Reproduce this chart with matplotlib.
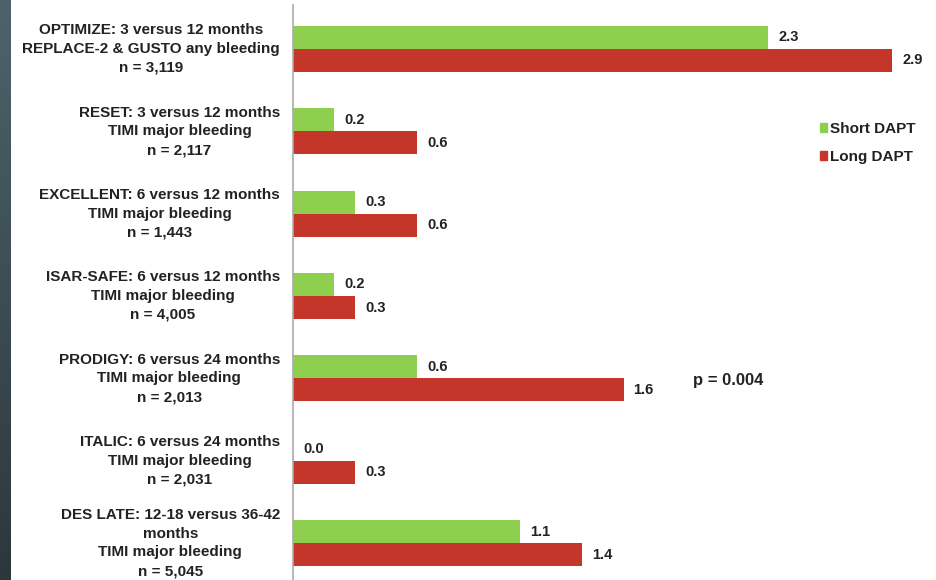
import numpy as np
import matplotlib
matplotlib.use("Agg")
import matplotlib.pyplot as plt
from matplotlib.patches import Patch
from matplotlib.colors import LinearSegmentedColormap

plt.rcParams['font.family'] = ['Liberation Sans', 'DejaVu Sans']
plt.rcParams['font.weight'] = 'bold'

trials = [
    "OPTIMIZE: 3 versus 12 months\nREPLACE-2 & GUSTO any bleeding\nn = 3,119",
    "RESET: 3 versus 12 months\nTIMI major bleeding\nn = 2,117",
    "EXCELLENT: 6 versus 12 months\nTIMI major bleeding\nn = 1,443",
    "ISAR-SAFE: 6 versus 12 months\nTIMI major bleeding\nn = 4,005",
    "PRODIGY: 6 versus 24 months\nTIMI major bleeding\nn = 2,013",
    "ITALIC: 6 versus 24 months\nTIMI major bleeding\nn = 2,031",
    "DES LATE: 12-18 versus 36-42\nmonths\nTIMI major bleeding\nn = 5,045",
]
short_dapt = [2.3, 0.2, 0.3, 0.2, 0.6, 0.0, 1.1]
long_dapt = [2.9, 0.6, 0.6, 0.3, 1.6, 0.3, 1.4]
series_names = ["Short DAPT", "Long DAPT"]
p_value_text = "p = 0.004"

GREEN = "#8fcf4f"
RED = "#c4352a"
TEXT = "#222222"

W, H = 936, 580
fig = plt.figure(figsize=(W / 100, H / 100), dpi=100)
fig.patch.set_facecolor("white")

# dark slate strip along the left edge
strip = fig.add_axes([0, 0, 11 / W, 1])
grad = np.linspace(0, 1, 256).reshape(-1, 1)
cmap = LinearSegmentedColormap.from_list("slate", ["#4d636c", "#2c373c"])
strip.imshow(grad, aspect="auto", cmap=cmap, extent=[0, 1, 1, 0])
strip.set_axis_off()

ax_left = 293 / W
ax_top = 5 / H
ax = fig.add_axes([ax_left, 0, 1 - ax_left, 1 - ax_top])

y = np.arange(len(trials))
h = 0.28
ax.barh(y - h / 2, short_dapt, height=h, color=GREEN, label=series_names[0])
ax.barh(y + h / 2, long_dapt, height=h, color=RED, label=series_names[1])

ax.set_ylim(6.449, -0.534)
ax.set_xlim(0, (W - 293) / 206.6)

for yi, v in zip(y - h / 2, short_dapt):
    ax.annotate(f"{v:.1f}", (v, yi), xytext=(10, 0), textcoords="offset pixels",
                ha="left", va="center", fontsize=10.5, fontweight="bold", color=TEXT)
for yi, v in zip(y + h / 2, long_dapt):
    ax.annotate(f"{v:.1f}", (v, yi), xytext=(10, 0), textcoords="offset pixels",
                ha="left", va="center", fontsize=10.5, fontweight="bold", color=TEXT)

for yi, lab in zip(y, trials):
    ax.annotate(lab, (0, yi), xytext=(-13, 0), textcoords="offset pixels",
                ha="right", va="center", multialignment="center",
                fontsize=11, fontweight="bold", color=TEXT, linespacing=1.43)

ax.set_yticks([])
ax.set_xticks([])
for s in ["top", "right", "bottom"]:
    ax.spines[s].set_visible(False)
ax.spines["left"].set_color("#aaaaaa")
ax.spines["left"].set_linewidth(1.2)

ax.text(693 / W, 1 - 380 / H, p_value_text, transform=fig.transFigure,
        ha="left", va="center", fontsize=12, fontweight="bold", color=TEXT)

handles = [Patch(color=GREEN, label=series_names[0]), Patch(color=RED, label=series_names[1])]
leg = fig.legend(handles=handles, loc="upper left", bbox_to_anchor=(806 / W, 1 - 108 / H),
                 frameon=False, handlelength=0.5, handleheight=0.5, handletextpad=0.2,
                 labelspacing=0.95, prop={"size": 11, "weight": "bold"})
for t in leg.get_texts():
    t.set_color(TEXT)

fig.savefig("out.png", dpi=100, facecolor="white")
